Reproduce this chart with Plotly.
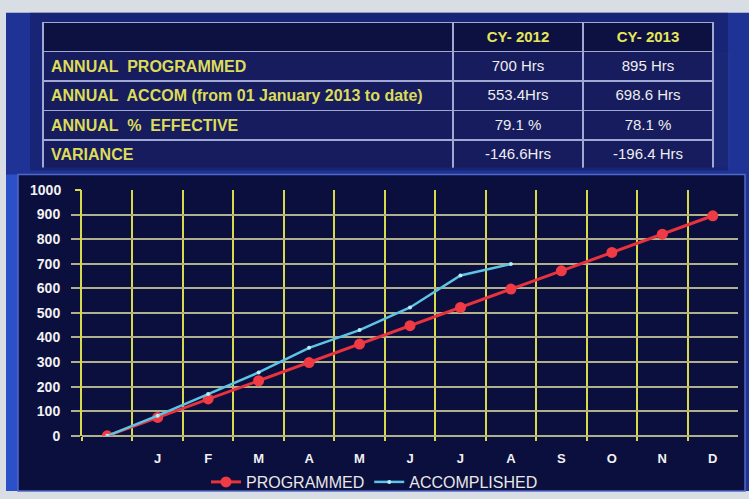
import plotly.graph_objects as go

W, H = 749, 499

# ---- data ----
months = ["", "J", "F", "M", "A", "M", "J", "J", "A", "S", "O", "N", "D"]
programmed = [0, 75, 150, 224, 298, 373, 448, 522, 597, 671, 746, 820, 895]
accomplished = [0, 82, 170, 258, 358, 430, 522, 652, 699]

row_labels = ["ANNUAL  PROGRAMMED", "ANNUAL  ACCOM (from 01 January 2013 to date)",
              "ANNUAL  %  EFFECTIVE", "VARIANCE"]
col_headers = [" ", "CY- 2012", "CY- 2013"]
cy2012 = ["700 Hrs", "553.4Hrs", "79.1 %", "-146.6Hrs"]
cy2013 = ["895 Hrs", "698.6 Hrs", "78.1 %", "-196.4 Hrs"]
grid_ticks = [0, 100, 200, 300, 400, 500, 600, 700, 800, 900]
top_tick = [1000]

FONT = "Liberation Sans, Arial, sans-serif"


def px(x):
    return x / W


def py(y):
    return 1 - y / H


fig = go.Figure()

# table
fig.add_trace(go.Table(
    domain=dict(x=[px(43), px(713)], y=[py(165), py(15)]),
    columnwidth=[410, 130, 130],
    header=dict(
        values=col_headers,
        fill_color="#0d1142",
        line_color="#a0a8d4",
        line_width=1.5,
        align=["left", "center", "center"],
        font=dict(family=FONT, size=15, color="#e6e65a", weight="bold"),
        height=29,
    ),
    cells=dict(
        values=[row_labels, cy2012, cy2013],
        fill_color="#171c5e",
        line_color="#a0a8d4",
        line_width=1.5,
        align=["left", "center", "center"],
        font=dict(family=FONT, size=[16, 15, 15],
                  color=["#dcdc5a", "#eeeeee", "#eeeeee"],
                  weight=["bold", "normal", "normal"]),
        height=29.5,
    ),
))

fig.add_trace(go.Scatter(
    x=list(range(len(programmed))), y=programmed, name="PROGRAMMED",
    mode="lines+markers",
    line=dict(color="#e8323e", width=3),
    marker=dict(color="#f03a44", size=11),
))
fig.add_trace(go.Scatter(
    x=list(range(len(accomplished))), y=accomplished, name="ACCOMPLISHED",
    mode="lines+markers",
    line=dict(color="#5cc4e4", width=2.5),
    marker=dict(color="#b8ecf8", size=4),
))
# carrier for the top (1000) tick label axis
fig.add_trace(go.Scatter(x=[0], y=[0], yaxis="y2", mode="markers",
                         marker=dict(opacity=0), showlegend=False, hoverinfo="skip"))

yfont = dict(family=FONT, size=14, color="#f2f2f2", weight="bold")

fig.update_layout(
    width=W, height=H,
    margin=dict(l=0, r=0, t=0, b=0),
    paper_bgcolor="#d9dde4",
    plot_bgcolor="rgba(0,0,0,0)",
    showlegend=True,
    legend=dict(orientation="h", x=0.5, xanchor="center", y=py(490), yanchor="middle",
                bgcolor="rgba(0,0,0,0)", tracegroupgap=0,
                font=dict(family=FONT, size=16, color="#e8e8e8")),
    xaxis=dict(
        domain=[px(82), px(738)], range=[-0.5, 12.5],
        tickmode="array", tickvals=list(range(len(months))), ticktext=months,
        showgrid=False, zeroline=False, ticks="",
        ticklabelstandoff=13,
        tickfont=dict(family=FONT, size=13, color="#f2f2f2", weight="bold"),
        minor=dict(tickmode="array", tickvals=[i - 0.5 for i in range(len(months))],
                   showgrid=True, gridcolor="#d8da4c", gridwidth=2,
                   ticks="outside", ticklen=4, tickcolor="#d8da4c", tickwidth=2),
        fixedrange=True,
    ),
    yaxis=dict(
        domain=[py(442), py(188)], range=[0, 1000],
        tickmode="array", tickvals=grid_ticks,
        showgrid=True, gridcolor="#b0b08c", gridwidth=2,
        zeroline=True, zerolinecolor="#b0b08c", zerolinewidth=2,
        showline=True, linecolor="#d8da4c", linewidth=2,
        ticks="outside", ticklen=9, tickcolor="#b0b08c", tickwidth=2,
        ticklabelstandoff=8,
        tickfont=yfont,
        fixedrange=True,
    ),
    yaxis2=dict(
        overlaying="y", side="left", range=[0, 1000],
        tickmode="array", tickvals=top_tick,
        showgrid=False, zeroline=False, showline=False,
        ticks="outside", ticklen=6, tickcolor="#d8da4c", tickwidth=2,
        ticklabelstandoff=11,
        tickfont=yfont,
        fixedrange=True,
    ),
    shapes=[
        dict(type="rect", xref="paper", yref="paper", x0=px(6), x1=1, y0=0, y1=py(5),
             fillcolor="#1f3396", line=dict(width=0), layer="below"),
        dict(type="rect", xref="paper", yref="paper", x0=px(30), x1=px(728), y0=py(168), y1=py(5),
             fillcolor="#121a5c", opacity=0.55, line=dict(width=0), layer="below"),
        dict(type="rect", xref="paper", yref="paper", x0=px(6), x1=px(18), y0=0, y1=py(172),
             fillcolor="#2c50c8", line=dict(width=0), layer="below"),
        dict(type="rect", xref="paper", yref="paper", x0=px(18), x1=px(745), y0=0, y1=py(172),
             fillcolor="#0b0f3e", line=dict(color="#5068c8", width=1.5), layer="below"),
    ],
)

fig.write_html("out.html")
